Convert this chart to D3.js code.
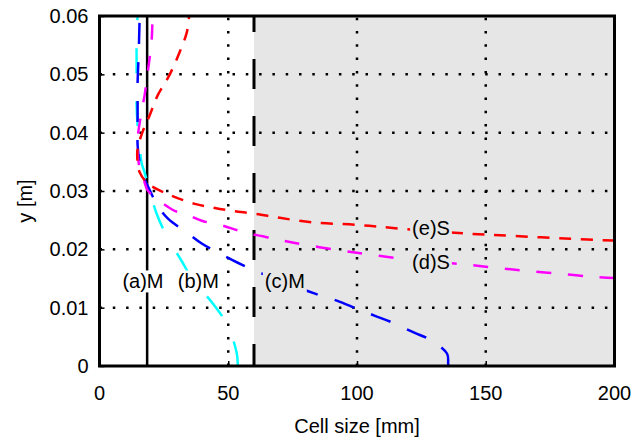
<!DOCTYPE html>
<html>
<head>
<meta charset="utf-8">
<script src="https://cdn.jsdelivr.net/npm/d3@7"></script>
<style>
  body { margin: 0; background: #fff; }
  text { font-family: "Liberation Sans", Arial, sans-serif; }
</style>
</head>
<body>
<div id="chart"></div>
<script>
var svgWidth = 642;
var svgHeight = 438;

var margin = { top: 16, right: 27.5, bottom: 72, left: 99.5 };
var width = svgWidth - margin.left - margin.right;
var height = svgHeight - margin.top - margin.bottom;

// tick values
var xTicks = [0, 50, 100, 150, 200];
var yTicks = [0, 0.01, 0.02, 0.03, 0.04, 0.05, 0.06];

// (a)M : constant cell size
var aX = [18.5, 18.5];
var aY = [0, 0.06];

// (b)M
var bX = [53.7, 53.7, 53.3, 49.8, 44, 35.8, 31.9, 26.1, 22.2, 18.7, 17.5, 16.3, 15.6, 14.8, 14.4, 14.4, 14.4, 14.4, 14.8];
var bY = [0, 0.0003, 0.0022, 0.0069, 0.0107, 0.0151, 0.0180, 0.0223, 0.0261, 0.0313, 0.0332, 0.0349, 0.0378, 0.0413, 0.0447, 0.0486, 0.0533, 0.0572, 0.0600];

// (c)M
var cX = [135.4, 135.4, 135, 129.2, 121.8, 114, 107, 100, 92.2, 83.7, 63.4, 53.7, 47.5, 39.7, 33.9, 26.5, 22.2, 18.7, 16.7, 15.6, 14.8, 14.8, 14.8, 14.8, 15.2, 15.6];
var cY = [0, 0.0005, 0.0021, 0.0043, 0.0058, 0.0074, 0.0086, 0.0098, 0.0112, 0.0124, 0.0158, 0.0177, 0.0191, 0.0210, 0.0229, 0.0253, 0.0278, 0.0309, 0.0327, 0.0349, 0.0378, 0.0401, 0.0447, 0.0486, 0.0533, 0.0600];

// (d)S
var dX = [200, 191.4, 179, 166.5, 154.5, 142, 117.5, 105, 93.4, 75.9, 68.1, 56.4, 47.5, 39.7, 33.1, 29.2, 22.2, 18.7, 17.5, 15.6, 14.8, 14.8, 16.3, 17.5, 19.1, 20.2, 20.6];
var dY = [0.0151, 0.0153, 0.0158, 0.0163, 0.0168, 0.0174, 0.0184, 0.0191, 0.0198, 0.0211, 0.0218, 0.0229, 0.0241, 0.0249, 0.0261, 0.0266, 0.0287, 0.0301, 0.0315, 0.0339, 0.0366, 0.0390, 0.0435, 0.0464, 0.0516, 0.0555, 0.0600];

// (e)S
var eX = [200, 183, 160.7, 142.8, 117.9, 100, 82.9, 70, 60.3, 51.4, 43.6, 37, 28, 18.7, 15.6, 14.8, 14.8, 16.7, 19.5, 22.6, 27.2, 31.1, 33.9, 34.8];
var eY = [0.0215, 0.0218, 0.0223, 0.0227, 0.0235, 0.0242, 0.0246, 0.0254, 0.0261, 0.0266, 0.0272, 0.0278, 0.0292, 0.0313, 0.0332, 0.0349, 0.0373, 0.0401, 0.0430, 0.0464, 0.0499, 0.0538, 0.0572, 0.0600];

// boundary of the shaded region
var splitX = 60;

// curve labels
var labelText = ["(a)M", "(b)M", "(c)M", "(d)S", "(e)S"];
var labelX = [8.9, 30.4, 64.2, 121.4, 121.4];
var labelY = [0.0133, 0.0133, 0.0133, 0.0166, 0.0225];

var svg = d3.select("#chart")
  .append("svg")
  .attr("width", svgWidth)
  .attr("height", svgHeight);

var chartGroup = svg.append("g")
  .attr("transform", `translate(${margin.left}, ${margin.top})`);

var xScale = d3.scaleLinear().domain([0, 200]).range([0, width]);
var yScale = d3.scaleLinear().domain([0, 0.06]).range([height, 0]);

svg.append("defs").append("clipPath").attr("id", "clip")
  .append("rect").attr("width", width).attr("height", height);

// shaded region
chartGroup.append("rect")
  .attr("x", xScale(splitX))
  .attr("y", 0)
  .attr("width", xScale(200) - xScale(splitX))
  .attr("height", height)
  .attr("fill", "#e6e6e6");

// dotted grid
chartGroup.selectAll(".vgrid")
  .data(xTicks.slice(1, -1))
  .enter().append("line")
  .attr("x1", d => xScale(d)).attr("x2", d => xScale(d))
  .attr("y1", height).attr("y2", 0)
  .attr("stroke", "black").attr("stroke-width", 2.5)
  .attr("stroke-dasharray", "2.5,10.8");

chartGroup.selectAll(".hgrid")
  .data(yTicks.slice(1, -1))
  .enter().append("line")
  .attr("x1", 0).attr("x2", width)
  .attr("y1", d => yScale(d)).attr("y2", d => yScale(d))
  .attr("stroke", "black").attr("stroke-width", 2.5)
  .attr("stroke-dasharray", "2.5,10.8");

// inward ticks
var bottomAxis = d3.axisBottom(xScale).tickValues(xTicks).tickSize(-5).tickFormat("");
var leftAxis = d3.axisLeft(yScale).tickValues(yTicks).tickSize(-5).tickFormat("");
chartGroup.append("g").attr("transform", `translate(0, ${height})`).call(bottomAxis)
  .call(g => g.select(".domain").remove())
  .selectAll("line").attr("stroke-width", 1.5);
chartGroup.append("g").call(leftAxis)
  .call(g => g.select(".domain").remove())
  .selectAll("line").attr("stroke-width", 1.5);

// tick labels
chartGroup.selectAll(".xlab")
  .data(xTicks)
  .enter().append("text")
  .attr("x", d => xScale(d))
  .attr("y", height + 34)
  .attr("text-anchor", "middle")
  .attr("font-size", 20)
  .text(d => d);

chartGroup.selectAll(".ylab")
  .data(yTicks)
  .enter().append("text")
  .attr("x", -11)
  .attr("y", d => yScale(d) + 7)
  .attr("text-anchor", "end")
  .attr("font-size", 20)
  .text(d => d === 0 ? "0" : d.toFixed(2));

// axis titles
chartGroup.append("text")
  .attr("x", width / 2)
  .attr("y", height + 67)
  .attr("text-anchor", "middle")
  .attr("font-size", 20)
  .text("Cell size [mm]");

chartGroup.append("text")
  .attr("transform", `translate(${-margin.left + 32}, ${height / 2 + 10}) rotate(-90)`)
  .attr("text-anchor", "middle")
  .attr("font-size", 20)
  .text("y [m]");

var plot = chartGroup.append("g").attr("clip-path", "url(#clip)");

// constant lines
plot.append("line")
  .attr("x1", xScale(aX[0])).attr("x2", xScale(aX[1]))
  .attr("y1", yScale(aY[0])).attr("y2", yScale(aY[1]))
  .attr("stroke", "black").attr("stroke-width", 2.5);

plot.append("line")
  .attr("x1", xScale(splitX)).attr("x2", xScale(splitX))
  .attr("y1", 0).attr("y2", height)
  .attr("stroke", "black").attr("stroke-width", 3)
  .attr("stroke-dasharray", "30,27")
  .attr("stroke-dashoffset", 14);

var line = d3.line()
  .x(d => xScale(d[0]))
  .y(d => yScale(d[1]))
  .curve(d3.curveCatmullRom.alpha(0.5));

var curves = [
  { xs: bX, ys: bY, color: "#00ffff", dash: "25,28" },
  { xs: cX, ys: cY, color: "#0000ff", dash: "21,18" },
  { xs: dX, ys: dY, color: "#ff00ff", dash: "15,16.7" },
  { xs: eX, ys: eY, color: "#ff0000", dash: "12,9.7" }
];

curves.forEach(function(c) {
  plot.append("path")
    .datum(d3.zip(c.xs, c.ys))
    .attr("d", line)
    .attr("fill", "none")
    .attr("stroke", c.color)
    .attr("stroke-width", 2.5)
    .attr("stroke-dasharray", c.dash);
});

// labels with background boxes
labelText.forEach(function(t, i) {
  var g = plot.append("g");
  var txt = g.append("text")
    .attr("x", xScale(labelX[i]))
    .attr("y", yScale(labelY[i]))
    .attr("font-size", 20)
    .text(t);
  var bb = txt.node().getBBox();
  g.insert("rect", "text")
    .attr("x", bb.x - 2).attr("y", bb.y)
    .attr("width", bb.width + 4).attr("height", bb.height)
    .attr("fill", labelX[i] >= splitX ? "#e6e6e6" : "#fff");
});

// frame
chartGroup.append("rect")
  .attr("width", width).attr("height", height)
  .attr("fill", "none")
  .attr("stroke", "black").attr("stroke-width", 3);
</script>
</body>
</html>
